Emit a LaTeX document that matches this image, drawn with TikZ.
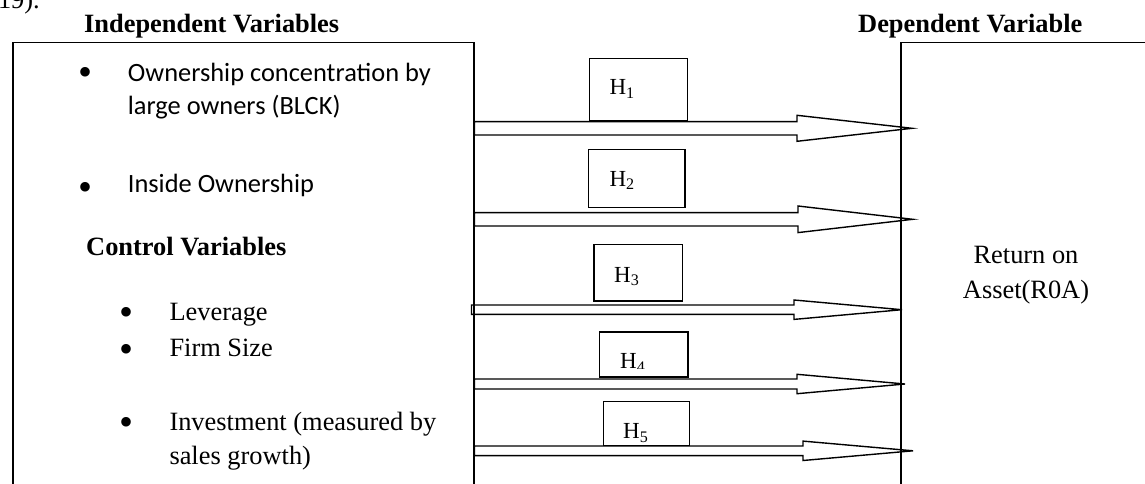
\documentclass[tikz,border=0pt]{standalone}
\usepackage{fontspec}
\setmainfont{Liberation Serif}
\newfontfamily\calibri{Carlito}
\usetikzlibrary{calc}
\newcommand\bodysize{\fontsize{26.4}{30}\selectfont}
\newcommand\labsize{\fontsize{23}{26}\selectfont}
\newcommand\dotsize{\fontsize{40}{40}\selectfont}
% block arrow: start coordinate, tip coordinate, shaft half-height, head length, head half-height
\newcommand\blockarrow[5]{%
  \draw[hbar] ($(#1)+(0,#3)$) -- ($(#2)+(-#4,#3)$) -- ($(#2)+(-#4,#5)$) -- (#2)
    -- ($(#2)+(-#4,-#5)$) -- ($(#2)+(-#4,-#3)$) -- ($(#1)+(0,-#3)$) -- cycle;}
\begin{document}
\begin{tikzpicture}[x=1pt,y=-1pt,
  panel/.style={draw, line width=1.5pt, inner sep=0pt, rectangle},
  hbox/.style={draw, line width=1.4pt, inner sep=0pt, rectangle, anchor=south west},
  hbar/.style={draw, line width=1.4pt, line join=miter},
  txt/.style={inner sep=0pt, anchor=base west, font=\bodysize},
  bold/.style={txt, font=\bodysize\bfseries},
  cal/.style={inner sep=0pt, anchor=base west, font=\calibri\bodysize},
  dot/.style={inner sep=0pt, anchor=base, font=\dotsize},
  hlab/.style={inner sep=0pt, anchor=base west, font=\labsize}]
\useasboundingbox (0,0) rectangle (1145,484);
\clip (0,0) rectangle (1145,484);

% trailing fragment of the preceding sentence
\node[txt, anchor=base east] (frag) at (40,9) {019).};

% headings
\node[bold] (indep) at (84,33) {Independent Variables};
\node[bold] (dep) at (858,33) {Dependent Variable};

% the two panels (open at the bottom / right edge)
\node[panel, anchor=north west, minimum width=461pt, minimum height=480pt] (lbox) at (12,41.7) {};
\node[panel, anchor=north west, minimum width=300pt, minimum height=480pt] (rbox) at (900,41.7) {};

% independent variables
\node[dot] (b1) at (86,85.5) {\textbullet};
\node[cal] (iv1a) at (127.7,81.7) {Ownership concentration by};
\node[cal] (iv1b) at (127.7,114) {large owners (BLCK)};
\node[dot] (b2) at (86,200.5) {\textbullet};
\node[cal] (iv2) at (127.7,192) {Inside Ownership};

% control variables
\node[bold] (ctrl) at (86,255) {Control Variables};
\node[dot] (b3) at (126.7,325.5) {\textbullet};
\node[txt] (cv1) at (169.3,320.7) {Leverage};
\node[dot] (b4) at (126.7,362.1) {\textbullet};
\node[txt] (cv2) at (169.3,356.7) {Firm Size};
\node[dot] (b5) at (126.7,435.5) {\textbullet};
\node[txt] (cv3a) at (169.3,430) {Investment (measured by};
\node[txt] (cv3b) at (169.3,464.5) {sales growth)};

% dependent variable (base anchor sits on the last line)
\node[inner sep=0pt, anchor=base, align=center, font=\bodysize] (roa) at (1026,298.3)
  {Return on\\[5pt]Asset(R0A)};

% arrow rows
\coordinate (r1) at (0,128.3);
\coordinate (r2) at (0,219.3);
\coordinate (r3) at (0,309.7);
\coordinate (r4) at (0,384);
\coordinate (r5) at (0,450.8);
\coordinate (s1) at (lbox.east |- r1);
\coordinate (s2) at (lbox.east |- r2);
\coordinate (s3) at ($(lbox.east |- r3)+(-3,0)$);
\coordinate (s4) at (lbox.east |- r4);
\coordinate (s5) at (lbox.east |- r5);
\coordinate (t1) at ($(rbox.west |- r1)+(12,0)$);
\coordinate (t2) at ($(rbox.west |- r2)+(12.7,0)$);
\coordinate (t3) at ($(rbox.west |- r3)+(2,0)$);
\coordinate (t4) at ($(rbox.west |- r4)+(5,0)$);
\coordinate (t5) at ($(rbox.west |- r5)+(13,0)$);

\blockarrow{s1}{t1}{6.7}{115}{13}
\blockarrow{s2}{t2}{6.7}{114.7}{13.3}
\blockarrow{s3}{t3}{4.7}{108}{9.7}
\blockarrow{s4}{t4}{5}{108}{9.7}
\blockarrow{s5}{t5}{4.8}{110}{9.7}

% hypothesis boxes
\node[hbox, minimum width=98pt, minimum height=62.7pt] (h1) at (589,121.7) {};
\node[hlab] (hl1) at (609.3,95) {H\textsubscript{1}};
\node[hbox, minimum width=96.6pt, minimum height=58pt] (h2) at (587.7,208) {};
\node[hlab] (hl2) at (609.3,186) {H\textsubscript{2}};
\node[hbox, minimum width=88.7pt, minimum height=56.4pt] (h3) at (593.3,301.7) {};
\node[hlab] (hl3) at (614,282) {H\textsubscript{3}};
\node[hbox, minimum width=88.3pt, minimum height=45pt] (h4) at (599,377.7) {};
\begin{scope}
  \clip (h4.north west) rectangle ($(h4.south east)+(0,-9)$);
  \node[hlab] (hl4) at (620,368.3) {H\textsubscript{4}};
\end{scope}
\node[hbox, minimum width=86pt, minimum height=44pt] (h5) at (602.7,446) {};
\node[hlab] (hl5) at (623,438.3) {H\textsubscript{5}};
\end{tikzpicture}
\end{document}
